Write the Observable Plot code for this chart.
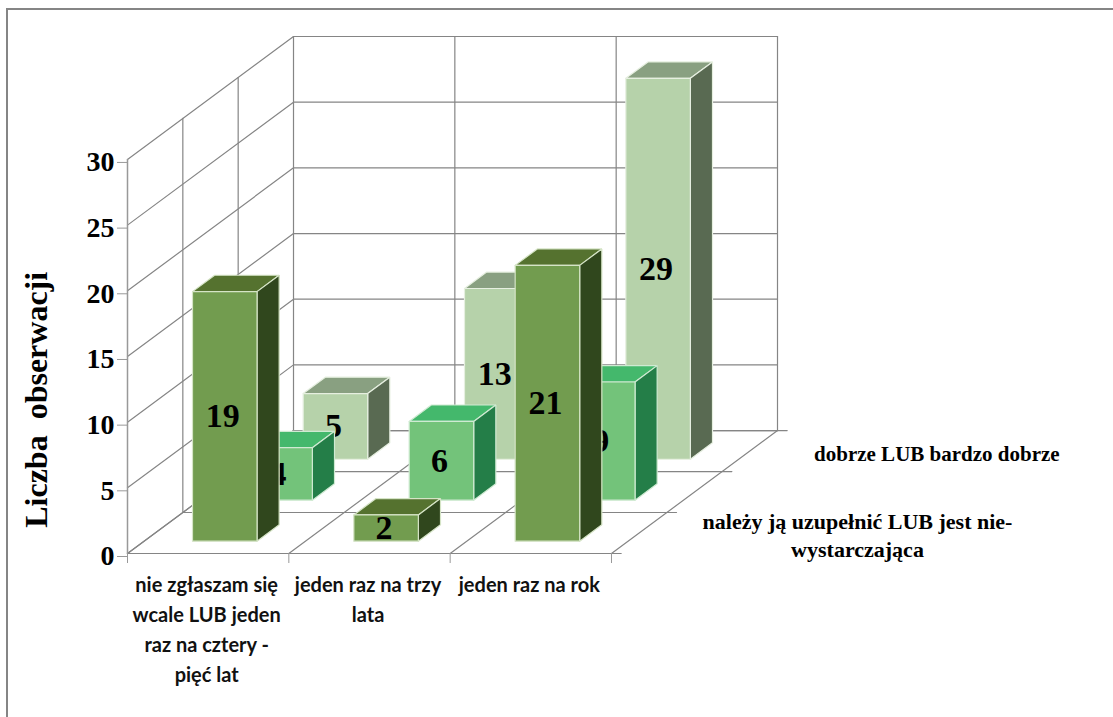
<!DOCTYPE html>
<html lang="pl">
<head>
<meta charset="utf-8">
<title>Liczba obserwacji</title>
<script src="https://cdn.jsdelivr.net/npm/d3@7"></script>
<script src="https://cdn.jsdelivr.net/npm/@observablehq/plot@0.6"></script>
<style>
  html, body { margin: 0; padding: 0; background: #fff; overflow: hidden; }
  #chart { position: relative; width: 1113px; height: 717px; }
  #chart svg { position: absolute; left: 0; top: 0; }
  #edge { position: absolute; left: 6px; top: 8px; right: 0; bottom: 0;
          border-top: 2px solid #858585; border-left: 2px solid #858585; }
</style>
</head>
<body>
<div id="chart"><div id="edge"></div></div>
<script>
// Chart content
const categories = [
  "nie zgłaszam się\nwcale LUB jeden\nraz na cztery -\npięć lat",
  "jeden raz na trzy\nlata",
  "jeden raz na rok"
];
const depthLabels = [
  "",
  "należy ją uzupełnić LUB jest nie-\nwystarczająca",
  "dobrze LUB bardzo dobrze"
];
const frontValues = [19, 2, 21];
const middleValues = [4, 6, 9];
const backValues = [5, 13, 29];
const valueTicks = [0, 5, 10, 15, 20, 25, 30];
const axisTitle = "Liczba  obserwacji";

// Face colours per series, front row first
const frontFaces = ["#729c4f", "#55722f", "#30471d"];
const middleFaces = ["#73c37a", "#44b86c", "#247e48"];
const backFaces = ["#b6d2aa", "#89a081", "#596a52"];
const edgeColors = ["#d5e4c6", "#cfead2", "#e6efe0"];

// Oblique projection: one depth step shifts right in category units and up in value units
const shiftX = 0.343;
const shiftY = 3.12;
const depthSteps = 3;
const px = (cat, depth) => cat + depth * shiftX;
const py = (val, depth) => val + depth * shiftY;

// Bars take 40% of a slot, centred, in both directions
const gap = 0.3;
const size = 0.4;

const gridLines = [];
const push = (id, pts) => pts.forEach(([c, d, v]) => gridLines.push({id, x: px(c, d), y: py(v, d)}));

valueTicks.forEach((v) => {
  push(`wall-${v}`, [[0, 0, v], [0, depthSteps, v], [categories.length, depthSteps, v]]);
});
d3.range(1, depthSteps + 1).forEach((d) => {
  push(`side-${d}`, [[0, d, 0], [0, d, 30]]);
  push(`floor-${d}`, [[0, d, 0], [categories.length + 0.06, d, 0]]);
});
d3.range(0, categories.length + 1).forEach((c) => {
  push(`run-${c}`, [[c, 0, 0], [c, depthSteps, 0]]);
  if (c > 0) push(`back-${c}`, [[c, depthSteps, 0], [c, depthSteps, 30]]);
});
push("base", [[0, 0, 0], [categories.length + 0.06, 0, 0]]);

// Outline of the three visible faces of one bar
function barFaces(cat, row, value) {
  const c0 = cat + gap, c1 = c0 + size;
  const d0 = row + gap, d1 = d0 + size;
  const pts = (list, face) => list.map(([c, d, v]) => ({id: `${cat}-${row}-${face}`, x: px(c, d), y: py(v, d)}));
  return {
    front: pts([[c0, d0, 0], [c1, d0, 0], [c1, d0, value], [c0, d0, value], [c0, d0, 0]], "f"),
    top: pts([[c0, d0, value], [c1, d0, value], [c1, d1, value], [c0, d1, value], [c0, d0, value]], "t"),
    side: pts([[c1, d0, 0], [c1, d1, 0], [c1, d1, value], [c1, d0, value], [c1, d0, 0]], "s")
  };
}

// Paint one row of bars and its value labels
function rowMarks(values, row, colors, edge) {
  const bars = values.map((v, i) => barFaces(i, row, v));
  const faceMark = (key, color) => Plot.line(bars.flatMap((b) => b[key]), {
    x: "x", y: "y", z: "id", fill: color, stroke: edge, strokeWidth: 1.2, strokeLinejoin: "miter"
  });
  return [
    faceMark("top", colors[1]),
    faceMark("side", colors[2]),
    faceMark("front", colors[0]),
    Plot.text(values, {
      x: (v, i) => px(i + 0.5, row + gap),
      y: (v) => py(v / 2, row + gap),
      text: (v) => String(v),
      fontFamily: "Liberation Serif",
      fontWeight: "bold",
      fontSize: 34,
      dx: -2,
      fill: "#000"
    })
  ];
}

const serif = {fontFamily: "Liberation Serif", fontWeight: "bold", fill: "#000"};

// Series names sit beside the floor; the nearest row has none
const depthMark = (row, dx, dy, fontSize, letterSpacing) => Plot.text([depthLabels[row]], {
  x: () => px(categories.length, row + 0.5),
  y: () => py(0, row + 0.5),
  text: (t) => t,
  dx,
  dy,
  textAnchor: "middle",
  lineHeight: 1.28,
  fontSize,
  letterSpacing,
  ...serif
});

const chart = Plot.plot({
  width: 1113,
  height: 717,
  marginLeft: 127,
  marginRight: 336,
  marginTop: 36,
  marginBottom: 164,
  style: {background: "transparent", overflow: "visible"},
  x: {domain: [0, px(categories.length, depthSteps)], axis: null},
  y: {domain: [0, py(30, depthSteps)], axis: null},
  marks: [
    Plot.line(gridLines, {x: "x", y: "y", z: "id", stroke: "#858585", strokeWidth: 1.2}),

    // Value axis on the front left edge
    Plot.axisY(valueTicks, {
      tickSize: 10,
      tickPadding: 3,
      stroke: "#999",
      label: null,
      tickFormat: "d",
      fontSize: 28,
      dy: 3,
      ...serif
    }),
    Plot.line([0, 30], {x: () => 0, y: (v) => v, stroke: "#999", strokeWidth: 1.5}),

    // Category ticks below the floor
    Plot.axisX([0, 1, 2, 3], {tickSize: 10, stroke: "#999", tickFormat: () => "", label: null}),

    // Rows are painted back to front so nearer bars cover farther ones
    ...rowMarks(backValues, 2, backFaces, edgeColors[2]),
    ...rowMarks(middleValues, 1, middleFaces, edgeColors[1]),
    ...rowMarks(frontValues, 0, frontFaces, edgeColors[0]),

    Plot.text(categories, {
      x: (c, i) => i + 0.5,
      y: () => 0,
      text: (c) => c,
      dy: 17,
      dx: -1.5,
      lineAnchor: "top",
      lineHeight: 1.5,
      fontFamily: "Lato",
      fontWeight: "bold",
      fontSize: 20,
      letterSpacing: 0.4,
      fill: "#111"
    }),
    depthMark(2, 187, 1, 21, 0.5),
    depthMark(1, 163, 42, 22, 0.7),
    Plot.text([axisTitle], {
      x: () => 0,
      y: () => 11.7,
      text: (t) => t,
      rotate: -90,
      dx: -91,
      fontSize: 32,
      letterSpacing: 1.5,
      ...serif
    })
  ]
});

document.getElementById("chart").appendChild(chart);
d3.select(chart).selectAll("text, tspan").style("white-space", "pre");
</script>
</body>
</html>
